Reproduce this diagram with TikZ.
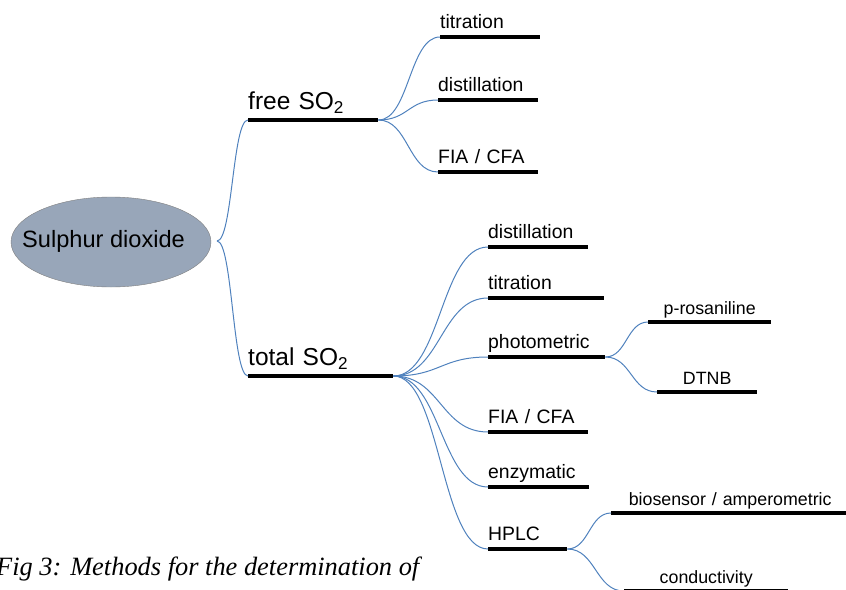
\documentclass[tikz,border=0pt]{standalone}
\usepackage{fontspec}
\setmainfont{Liberation Sans}
\newfontfamily\capserif{Liberation Serif}
\usetikzlibrary{calc,shapes.geometric}

\definecolor{linkblue}{RGB}{79,129,189}
\definecolor{rootfill}{RGB}{152,166,185}

\tikzset{
    bar/.style={line width=3.2pt, black},
    link/.style={linkblue, line width=1pt},
    topic/.style={anchor=south west, inner xsep=0pt, inner ysep=#1, text depth=0pt,
        append after command={(\tikzlastnode.south west) edge[bar] (\tikzlastnode.south east)}},
    main/.style={topic=10.5pt, align=left, font=\fontsize{24.5}{26}\selectfont},
    method/.style={topic=8.5pt, align=left, font=\fontsize{19.4}{21}\selectfont},
    detail/.style={topic=7pt, align=center, font=\fontsize{17.8}{19}\selectfont},
}

\begin{document}
\begin{tikzpicture}[x=1pt, y=-1pt]
    \useasboundingbox (0,0) rectangle (846,589);
    \clip (0,0) rectangle (846,589);

    % Root of the map
    \node[ellipse, draw=gray, fill=rootfill, minimum width=200pt, minimum height=90pt] (root) at (111,242) {};
    \node[font=\fontsize{23.6}{25}\selectfont, anchor=base] (rootlabel) at (103.5,247) {Sulphur dioxide};
    \coordinate (rootout) at (217,241);

    % Free and total SO2
    \node[main, text width=130pt] (free) at (248,120) {free SO\textsubscript{2}};
    \node[main, text width=145pt] (total) at (248,376) {total SO\textsubscript{2}};

    % Methods for free SO2
    \node[method, text width=100pt] (fTit) at (440,37) {titration};
    \node[method, text width=100pt] (fDist) at (438,100) {distillation};
    \node[method, text width=100pt] (fFia) at (438,172) {FIA / CFA};

    % Methods for total SO2
    \node[method, text width=100pt] (tDist) at (488,247) {distillation};
    \node[method, text width=116pt] (tTit) at (488,298) {titration};
    \node[method, text width=117pt] (tPhoto) at (488,357) {photometric};
    \node[method, text width=100pt] (tFia) at (488,432) {FIA / CFA};
    \node[method, text width=101pt] (tEnz) at (488,487) {enzymatic};
    \node[method, text width=79pt] (tHplc) at (488,549) {HPLC};

    % Photometric and HPLC details
    \node[detail, text width=123pt] (pRos) at (648,322) {p-rosaniline};
    \node[detail, text width=100pt] (dtnb) at (657,392) {DTNB};
    \node[detail, text width=238pt] (bioAmp) at (611,513) {biosensor / amperometric};
    \node[detail, text width=164pt] (cond) at (624,591) {conductivity};

    % Caption
    \node[font=\capserif\itshape\fontsize{26.4}{28}\selectfont, anchor=base west, inner sep=0pt] (caption) at (-4,575) {Fig 3: Methods for the determination of};

    % Links
    \foreach \b in {free, total} {
        \draw[link] (rootout) .. controls ($(rootout)!.5!(rootout -| \b.south west)$) and ($(\b.south west)!.5!(\b.south west -| rootout)$) .. (\b.south west);
    }
    \foreach \a/\b in {free/fTit, free/fDist, free/fFia,
                       total/tDist, total/tTit, total/tPhoto, total/tFia, total/tEnz, total/tHplc,
                       tPhoto/pRos, tPhoto/dtnb, tHplc/bioAmp, tHplc/cond} {
        \draw[link] (\a.south east) .. controls ($(\a.south east)!.5!(\a.south east -| \b.south west)$) and ($(\b.south west)!.5!(\b.south west -| \a.south east)$) .. (\b.south west);
    }
\end{tikzpicture}
\end{document}
